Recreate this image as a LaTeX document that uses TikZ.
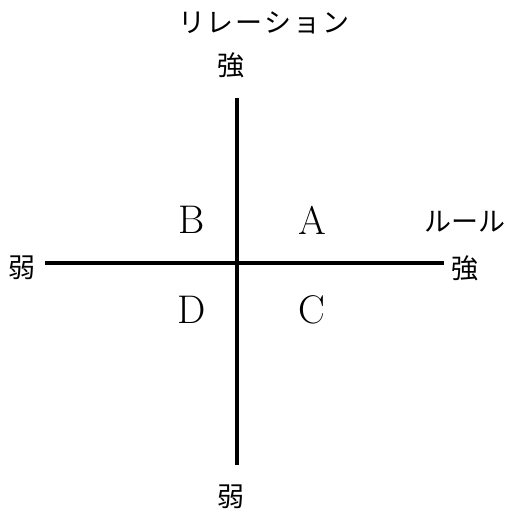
\documentclass[tikz,border=0pt]{standalone}
\usepackage{fontspec}
\newfontfamily\jp{Noto Sans CJK JP}[Scale=1]
\begin{document}
\begin{tikzpicture}[x=1pt,y=1pt,
  axis/.style={line width=3.5pt},
  jlab/.style={font=\fontsize{27}{30}\selectfont\jp, inner sep=0pt},
  quad/.style={font=\fontsize{40}{42}\selectfont, inner sep=0pt}]
\useasboundingbox (0,0) rectangle (511,515);
\coordinate (vt) at (237,417);
\coordinate (vb) at (237,50);
\coordinate (hl) at (45,252);
\coordinate (hr) at (444,252);
\draw[axis] (vt) -- (vb);
\draw[axis] (hl) -- (hr);
\node[jlab] (rel) at (264,492) {リ\hspace{2pt}レ\hspace{2pt}ー\hspace{2pt}シ\hspace{2pt}ョ\hspace{2pt}ン};
\node[jlab] (ts) at (231,450) {強};
\node[jlab] (bw) at (231,18) {弱};
\node[jlab] (lw) at (22,247) {弱};
\node[jlab] (rs) at (465,247) {強};
\node[jlab] (rule) at (465,293) {ルール};
\node[quad] (A) at (312,295) {A};
\node[quad] (B) at (192,295) {B};
\node[quad] (D) at (192,205) {D};
\node[quad] (C) at (312,205) {C};
\end{tikzpicture}
\end{document}
